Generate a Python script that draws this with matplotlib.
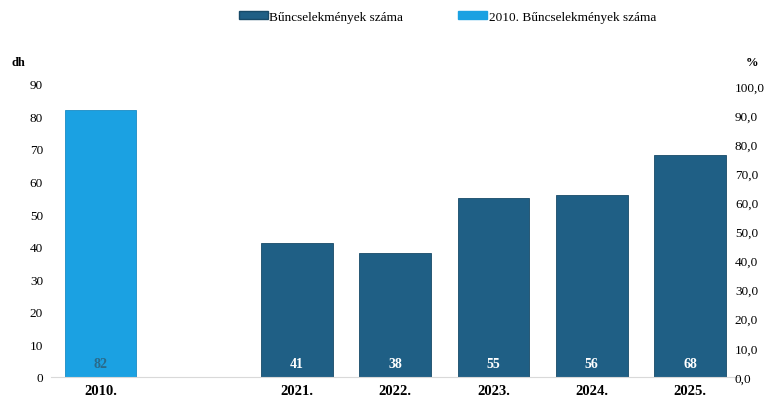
import matplotlib.pyplot as plt
from matplotlib.patches import Patch

plt.rcParams['font.family'] = ['Liberation Serif', 'DejaVu Serif']

categories = ['2010.', '', '2021.', '2022.', '2023.', '2024.', '2025.']
base_value = [82]
crime_values = [41, 38, 55, 56, 68]
series_label = 'Bűncselekmények száma'
base_label = '2010. Bűncselekmények száma'

dark_blue = '#1f5f85'
light_blue = '#1ba1e2'

fig = plt.figure(figsize=(7.78, 4.02), dpi=100)
ax = fig.add_axes([0.066, 0.06, 0.884, 0.729])

x = list(range(len(categories)))
w = 0.73
ax.bar(x[0], base_value[0], width=w, color=light_blue, edgecolor='#1a8cc4', linewidth=0.6)
ax.bar(x[2:], crime_values, width=w, color=dark_blue, edgecolor='#174a68', linewidth=0.6)

ax.text(x[0], 4, str(base_value[0]), ha='center', va='center', fontsize=10,
        fontweight='bold', color='#2a6a8a')
for xi, v in zip(x[2:], crime_values):
    ax.text(xi, 4, str(v), ha='center', va='center', fontsize=10,
            fontweight='bold', color='white')

ax.set_xlim(-0.5, len(categories) - 0.5)
ax.set_ylim(0, 90)
ax.set_yticks(range(0, 91, 10))
ax.tick_params(axis='y', length=0, labelsize=9.5, pad=6)
ax.set_xticks(x)
ax.set_xticklabels(categories, fontweight='bold', fontsize=10.5)
ax.tick_params(axis='x', length=0, pad=5)

for s in ['top', 'right', 'left']:
    ax.spines[s].set_visible(False)
ax.spines['bottom'].set_color('#d9d9d9')

ax2 = ax.twinx()
ax2.set_ylim(0, 100.7)
ax2.set_yticks(range(0, 101, 10))
ax2.set_yticklabels([f'{t},0' for t in range(0, 101, 10)])
ax2.tick_params(axis='y', length=0, labelsize=9.5, pad=-3)
for s in ax2.spines.values():
    s.set_visible(False)

fig.text(0.015, 0.835, 'dh', fontsize=9, fontweight='bold')
fig.text(0.958, 0.835, '%', fontsize=9, fontweight='bold')

handles = [Patch(facecolor=dark_blue, edgecolor='#174a68'),
           Patch(facecolor=light_blue, edgecolor=light_blue)]
fig.legend(handles, [series_label, base_label], loc='upper center',
           bbox_to_anchor=(0.575, 1.0), ncol=2, frameon=False, fontsize=9.5,
           handlelength=2.2, handleheight=0.5, handletextpad=0.1, columnspacing=4.2)

fig.savefig('out.png', dpi=100)
